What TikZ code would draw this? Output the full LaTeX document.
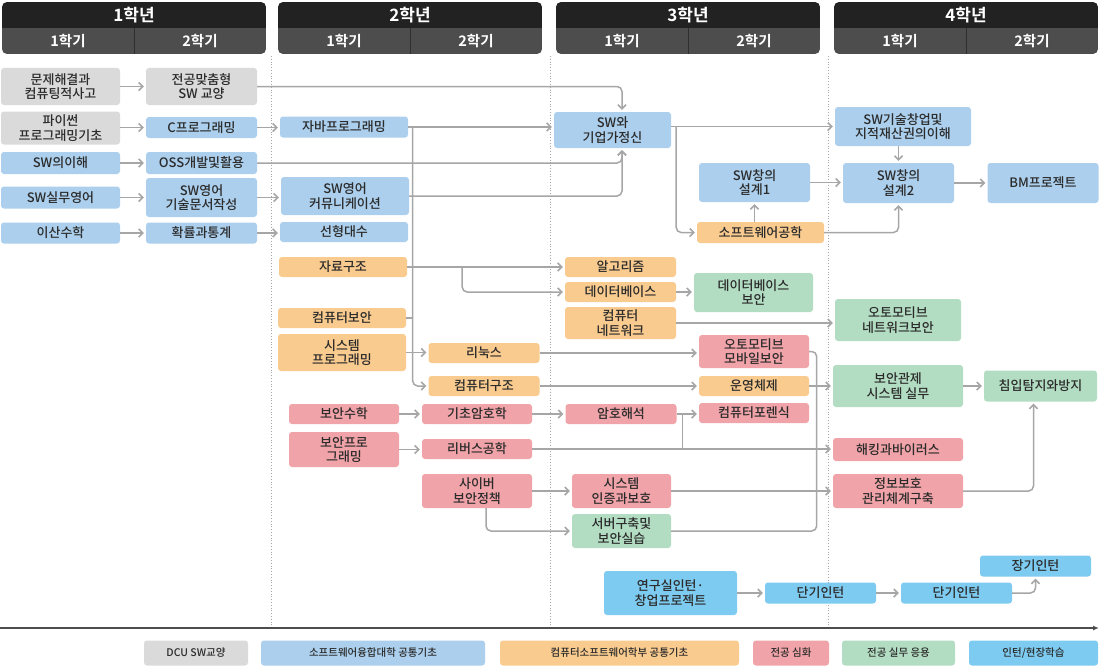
\documentclass[tikz,border=0pt]{standalone}
\usepackage{fontspec}
\setmainfont{Noto Sans CJK KR}[UprightFont = * Medium, BoldFont = * Bold]
\usepackage{tikz}
\usetikzlibrary{arrows.meta}

\definecolor{hdtop}{HTML}{222222}
\definecolor{hdbot}{HTML}{4D4D4D}
\definecolor{cgray}{HTML}{DADADA}
\definecolor{cblue}{HTML}{ABCFEC}
\definecolor{corange}{HTML}{F9CB8F}
\definecolor{cred}{HTML}{F0A3A8}
\definecolor{cgreen}{HTML}{B3DDC2}
\definecolor{ccyan}{HTML}{7DCBF0}
\definecolor{cline}{HTML}{A6A6A6}
\definecolor{ctext}{HTML}{2B2B2B}

\begin{document}
\begin{tikzpicture}[
            x = 1pt, y = -1pt, % one unit per pixel, top down
            > = {Straight Barb[length=4pt, width=8pt]}, % arrow head style
            sz/.style 2 args = {minimum width=#1pt, minimum height=#2pt}
        ]

        \tikzstyle{box}=[
            rounded corners = 3pt,
            align = center,
            inner sep = 0pt,
            text = ctext,
            font = \fontsize{13}{14.5}\selectfont
        ]
        \tikzstyle{gry}=[box, fill = cgray]
        \tikzstyle{blu}=[box, fill = cblue]
        \tikzstyle{org}=[box, fill = corange]
        \tikzstyle{red}=[box, fill = cred]
        \tikzstyle{grn}=[box, fill = cgreen]
        \tikzstyle{cyn}=[box, fill = ccyan]
        \tikzstyle{line}=[draw = cline, line width = 1.5pt, rounded corners = 5pt]
        \tikzstyle{link}=[line, ->, shorten > = 2pt]

        \useasboundingbox (0,0) rectangle (1100,669);

        % year / semester header
        \foreach \yr/\xa in {1/2, 2/278, 3/556, 4/834} {
            \begin{scope}
                \clip[rounded corners = 5pt] (\xa,2) rectangle ++(264,52);
                \fill[hdtop] (\xa,2) rectangle ++(264,26);
                \fill[hdbot] (\xa,28) rectangle ++(264,26);
                \draw[hdtop!70!hdbot, line width = 1pt] (\xa+132,28) -- ++(0,26);
            \end{scope}
            \node[text = white, font = \bfseries\fontsize{17}{19}\selectfont] (yr\yr) at (\xa+132,15) {\yr{}학년};
            \node[text = white, font = \bfseries\fontsize{14.5}{16}\selectfont] (sa\yr) at (\xa+66,41) {1학기};
            \node[text = white, font = \bfseries\fontsize{14.5}{16}\selectfont] (sb\yr) at (\xa+198,41) {2학기};
        }

        % dotted year borders
        \foreach \dx in {271, 550, 828}
            \draw[cline, dotted, line width = 0.8pt] (\dx,56) -- (\dx,628);

        % 1st year
        \node[gry, sz={119}{37}] (ct) at (60.5,86.5) {문제해결과\\컴퓨팅적사고};
        \node[gry, sz={119}{33}] (py) at (60.5,128) {파이썬\\프로그래밍기초};
        \node[blu, sz={119}{22}] (swu) at (60.5,163) {SW의이해};
        \node[blu, sz={119}{22}] (swe) at (60.5,197.5) {SW실무영어};
        \node[blu, sz={119}{21}] (dm) at (60.5,233) {이산수학};
        \node[gry, sz={111}{37}] (mj) at (201.5,86.5) {전공맞춤형\\SW 교양};
        \node[blu, sz={111}{21}] (cp) at (201.5,127.5) {C프로그래밍};
        \node[blu, sz={111}{22}] (oss) at (201.5,163) {OSS개발및활용};
        \node[blu, sz={111}{39}] (swt) at (201.5,197.5) {SW영어\\기술문서작성};
        \node[blu, sz={111}{21}] (ps) at (201.5,233) {확률과통계};

        % 2nd year
        \node[blu, sz={128}{21}] (java) at (344,127) {자바프로그래밍};
        \node[blu, sz={128}{38}] (swc) at (345,196) {SW영어\\커뮤니케이션};
        \node[blu, sz={128}{20}] (la) at (344,232) {선형대수};
        \node[org, sz={128}{20}] (ds) at (343,267) {자료구조};
        \node[org, sz={128}{20}] (cs) at (342,318) {컴퓨터보안};
        \node[org, sz={128}{37}] (sp) at (342,352.5) {시스템\\프로그래밍};
        \node[red, sz={110}{20}] (sm) at (344,414) {보안수학};
        \node[red, sz={110}{35}] (spg) at (344,449.5) {보안프로\\그래밍};
        \node[org, sz={111}{20}] (lnx) at (484,353) {리눅스};
        \node[org, sz={111}{20}] (ca) at (484,386) {컴퓨터구조};
        \node[red, sz={110}{20}] (bc) at (477,414) {기초암호학};
        \node[red, sz={110}{20}] (re) at (477,449) {리버스공학};
        \node[red, sz={110}{34}] (cyb) at (477,491) {사이버\\보안정책};

        % 3rd year
        \node[blu, sz={117}{36}] (swent) at (612.5,130) {SW와\\기업가정신};
        \node[org, sz={111}{20}] (alg) at (620.5,267) {알고리즘};
        \node[org, sz={111}{20}] (db) at (620.5,292) {데이터베이스};
        \node[org, sz={111}{32}] (cn) at (620.5,323) {컴퓨터\\네트워크};
        \node[red, sz={111}{20}] (ch) at (621,414) {암호해석};
        \node[red, sz={99}{34}] (sys) at (621.5,491) {시스템\\인증과보호};
        \node[grn, sz={99}{34}] (srv) at (621.5,531) {서버구축및\\보안실습};
        \node[blu, sz={111}{39}] (sc1) at (754.5,182.5) {SW창의\\설계1};
        \node[org, sz={127}{21}] (se) at (760.5,232.5) {소프트웨어공학};
        \node[grn, sz={119}{39}] (dbs) at (753.5,292.5) {데이터베이스\\보안};
        \node[red, sz={110}{33}] (amb) at (754,351.5) {오토모티브\\모바일보안};
        \node[org, sz={110}{20}] (os) at (754,386) {운영체제};
        \node[red, sz={110}{20}] (cf) at (754,413) {컴퓨터포렌식};

        % 4th year
        \node[blu, sz={136}{39}] (swbiz) at (903,126.5) {SW기술창업및\\지적재산권의이해};
        \node[blu, sz={111}{40}] (sc2) at (898.5,183) {SW창의\\설계2};
        \node[blu, sz={111}{40}] (bm) at (1043,183) {BM프로젝트};
        \node[grn, sz={126}{42}] (anw) at (898,320) {오토모티브\\네트워크보안};
        \node[grn, sz={130}{42}] (soc) at (898,386) {보안관제\\시스템 실무};
        \node[grn, sz={113}{31}] (ids) at (1040.5,386) {침입탐지와방지};
        \node[red, sz={130}{23}] (hv) at (898,449.5) {해킹과바이러스};
        \node[red, sz={130}{34}] (isms) at (898,491) {정보보호\\관리체계구축};

        % internships
        \node[cyn, sz={133}{44}] (lab) at (670.5,593) {연구실인턴·\\창업프로젝트};
        \node[cyn, sz={111}{21}] (si1) at (820.5,593) {단기인턴};
        \node[cyn, sz={111}{21}] (si2) at (956.5,593) {단기인턴};
        \node[cyn, sz={111}{21}] (li) at (1035.5,566) {장기인턴};

        % helper points on shared lines
        \coordinate (jt) at ([xshift=4.5pt]java.east);
        \coordinate (st) at ([xshift=5pt]swent.east);
        \coordinate (cj) at ([xshift=6pt]ch.east);

        % 1st year links
        \draw[link] (ct) -- (mj);
        \draw[link] (py.east |- cp) -- (cp);
        \draw[link] (swu) -- (oss);
        \draw[link] (swe) -- (swt);
        \draw[link] (dm) -- (ps);
        \draw[link] (cp.east) -- (cp.east -| java.west);
        \draw[link] (swt.east) -- (swt.east -| swc.west);
        \draw[link] (ps.east) -- (ps.east -| la.west);

        % into SW and entrepreneurship
        \draw[link] (mj.east) -| ([xshift=9.5pt]swent.north);
        \draw[link] (java.east) -- (java.east -| swent.west);
        \draw[link] (oss.east) -| ([xshift=9.5pt]swent.south);
        \draw[link] (swc.east) -| ([xshift=9.5pt]swent.south);

        % 2nd year links
        \draw[link] (jt) |- (ca.west);
        \draw[line] (cs.east) -- (cs.east -| jt);
        \draw[link] (sp.east) -- (sp.east -| lnx.west);
        \draw[link] (ds.east) -- (ds.east -| alg.west);
        \draw[link] ([xshift=55pt]ds.east) |- (db.west);
        \draw[link] (sm.east) -- (sm.east -| bc.west);
        \draw[link] (spg.east) -- (spg.east -| re.west);
        \draw[link] (cyb.east) -- (cyb.east -| sys.west);
        \draw[link] ([xshift=9pt]cyb.south) |- (srv.west);

        % 3rd year links
        \draw[link] (db.east) -- (db.east -| dbs.west);
        \draw[link] (cn.east) -- (cn.east -| anw.west);
        \draw[link] (lnx.east) -- (lnx.east -| amb.west);
        \draw[link] (ca.east) -- (ca.east -| os.west);
        \draw[link] (bc.east) -- (bc.east -| ch.west);
        \draw[link] (ch.east) -- (ch.east -| cf.west);
        \draw[line] (cj) -- (cj |- re);
        \draw[link] (re.east) -- (re.east -| hv.west);
        \draw[link] (sys.east) -- (sys.east -| isms.west);
        \draw[line] (srv.east) -| ([xshift=7.5pt]amb.east) -- (amb.east);
        \draw[link] (swent.east |- swbiz) -- (swbiz.west);
        \draw[link] (st |- swbiz) |- (se.west);
        \draw[link] (sc1.south |- se.north) -- (sc1.south);
        \draw[link] (sc1.east) -- (sc1.east -| sc2.west);

        % 4th year links
        \draw[link] (sc2.north |- swbiz.south) -- (sc2.north);
        \draw[link] (se.east) -| (sc2.south);
        \draw[link] (sc2.east) -- (sc2.east -| bm.west);
        \draw[link] (os.east) -- (os.east -| soc.west);
        \draw[link] (soc.east) -- (soc.east -| ids.west);
        \draw[link] (isms.east) -| ([xshift=-7pt]ids.south);
        \draw[link] (lab.east) -- (lab.east -| si1.west);
        \draw[link] (si1.east) -- (si1.east -| si2.west);
        \draw[link] (si2.east) -| (li.south);

        % time axis
        \coordinate (ax0) at (0,628);
        \coordinate (ax1) at (1099,628);
        \draw[hdbot, line width = 1.4pt, -{Latex[length=6pt, width=5pt]}] (ax0) -- (ax1);

        % legend
        \foreach \nm/\cl/\cx/\w/\txt in {
                lg1/cgray/196/104/{DCU SW교양},
                lg2/cblue/373/224/{소프트웨어융합대학 공통기초},
                lg3/corange/619.5/239/{컴퓨터소프트웨어학부 공통기초},
                lg4/cred/791/76/{전공 심화},
                lg5/cgreen/898.5/113/{전공 실무 응용},
                lg6/ccyan/1033.5/129/{인턴/현장학습}}
            \node[box, fill = \cl, sz={\w}{25}, font = \fontsize{10.5}{12}\selectfont] (\nm) at (\cx,653) {\txt};

  \end{tikzpicture}
\end{document}
